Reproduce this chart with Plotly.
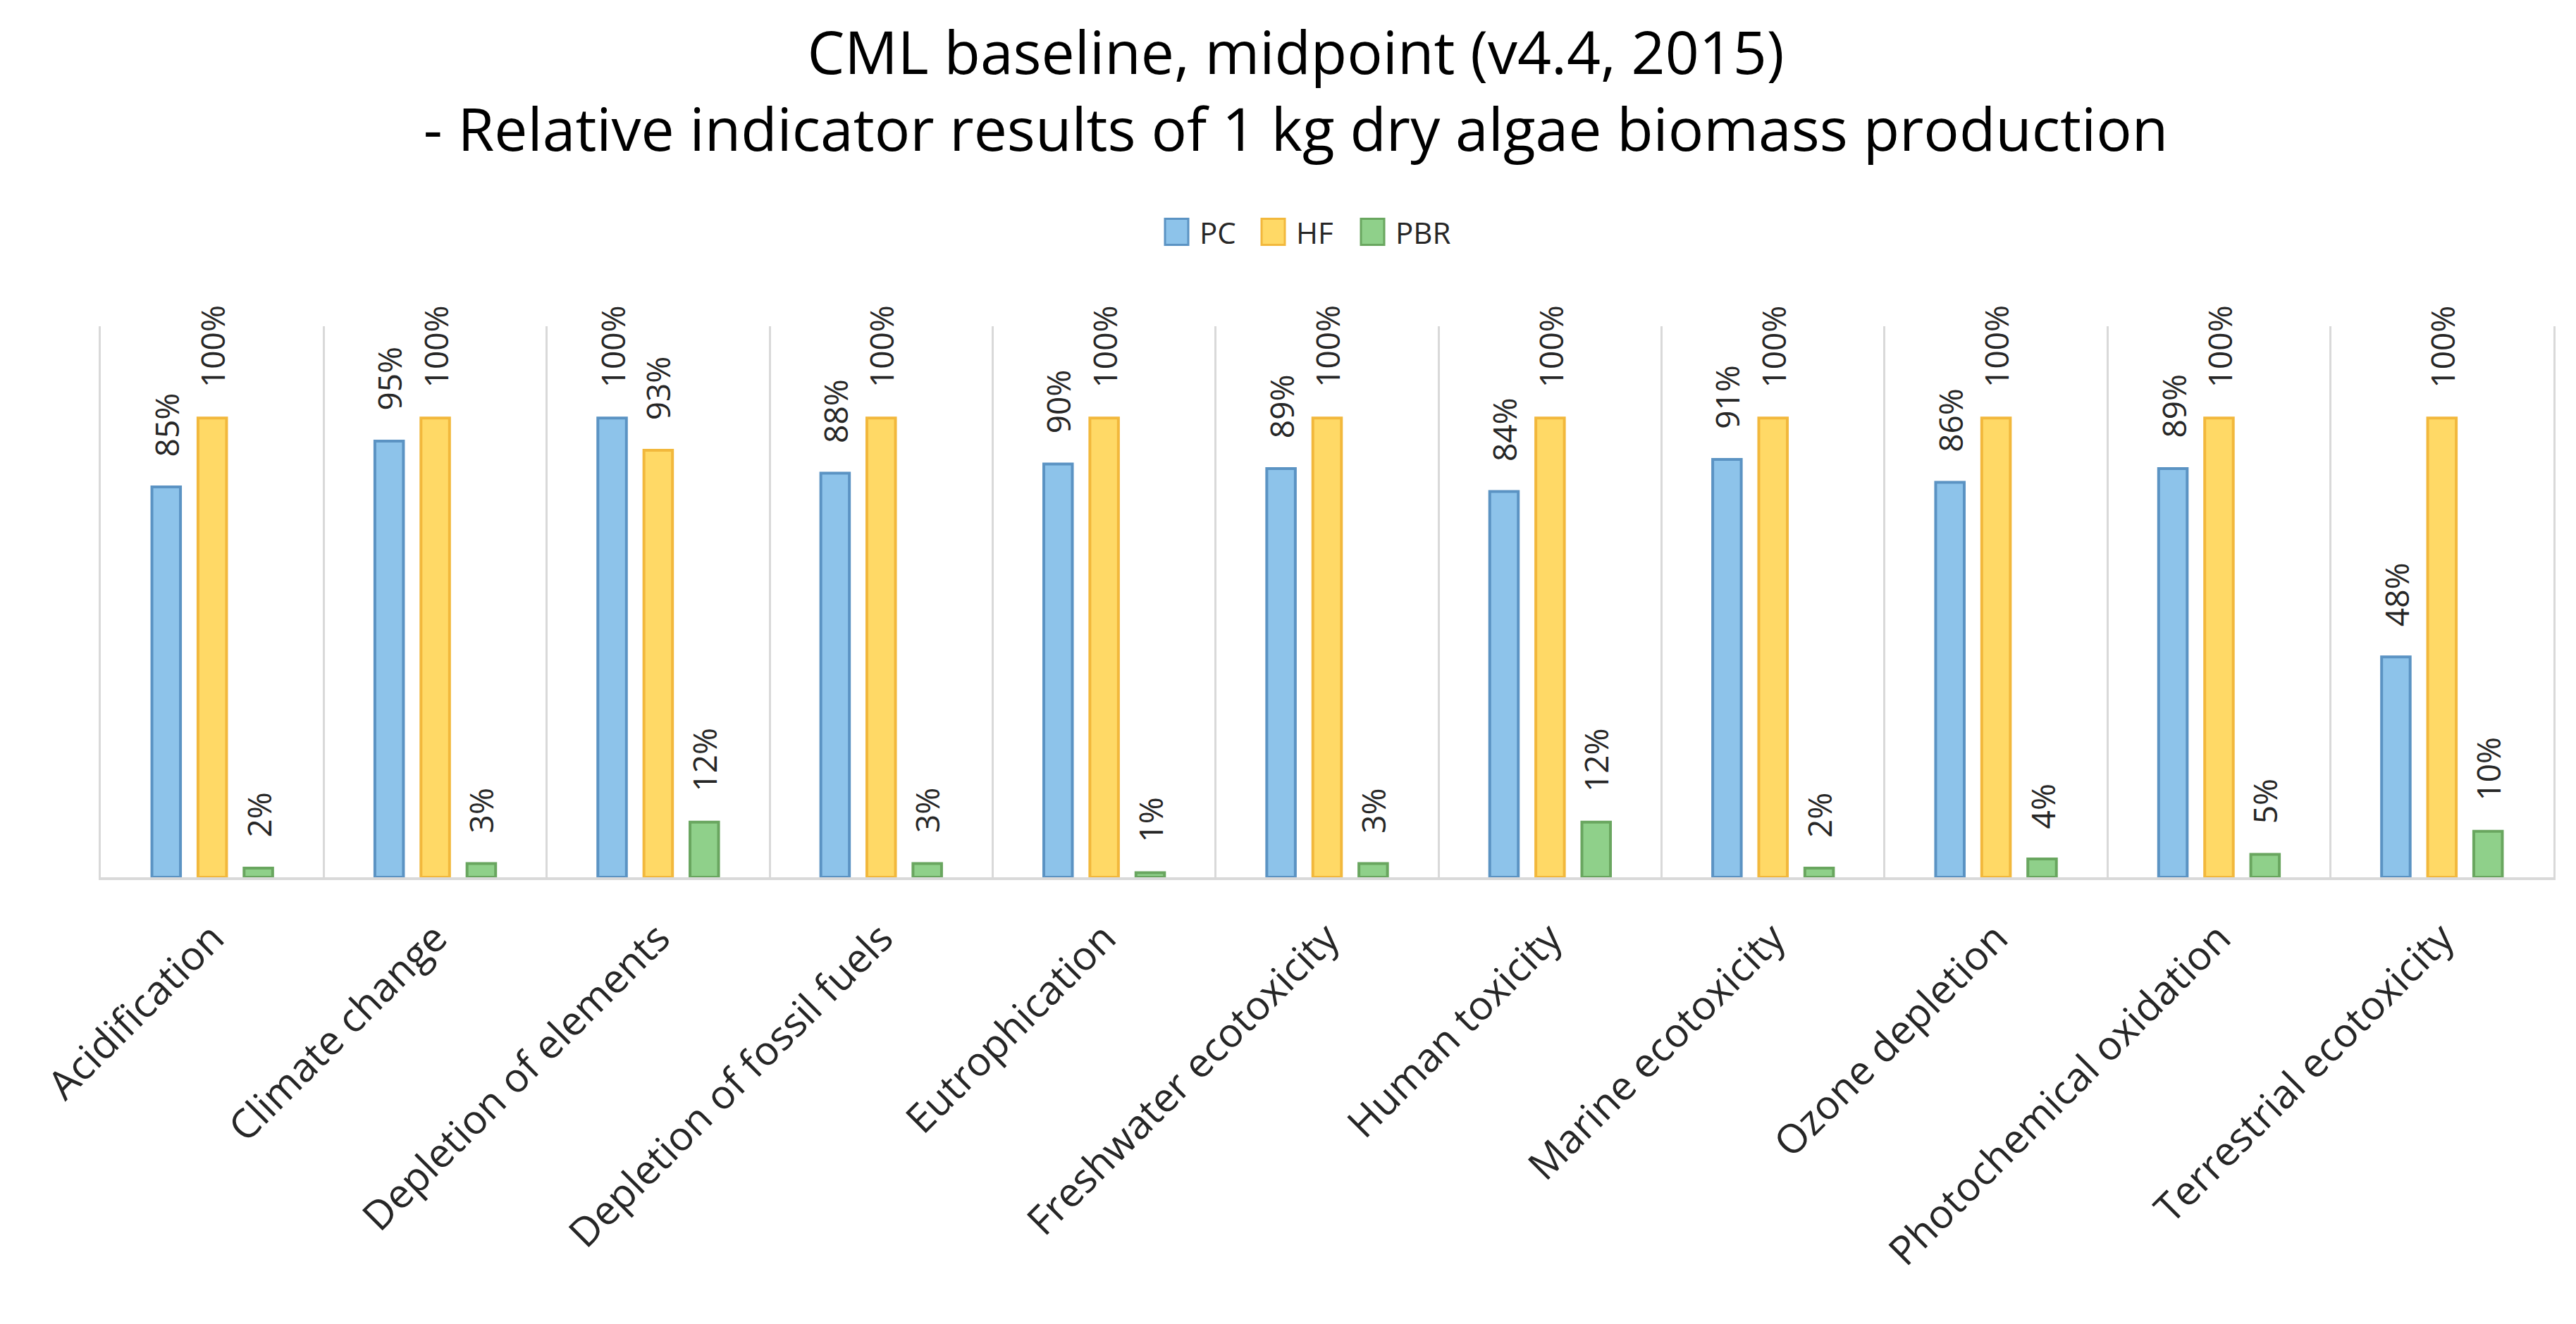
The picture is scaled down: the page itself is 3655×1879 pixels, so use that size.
import plotly.graph_objects as go

# ---------------- data ----------------
categories = [
    "Acidification", "Climate change", "Depletion of elements",
    "Depletion of fossil fuels", "Eutrophication", "Freshwater ecotoxicity",
    "Human toxicity", "Marine ecotoxicity", "Ozone depletion",
    "Photochemical oxidation", "Terrestrial ecotoxicity",
]
series_names = ["PC", "HF", "PBR"]
pc_values = [0.85, 0.95, 1.00, 0.88, 0.90, 0.89, 0.84, 0.91, 0.86, 0.89, 0.48]
hf_values = [1.00, 1.00, 0.93, 1.00, 1.00, 1.00, 1.00, 1.00, 1.00, 1.00, 1.00]
pbr_values = [0.02, 0.03, 0.12, 0.03, 0.01, 0.03, 0.12, 0.02, 0.04, 0.05, 0.10]

title_line1 = "CML baseline, midpoint (v4.4, 2015)"
title_line2 = "- Relative indicator results of 1 kg dry algae biomass production"

# ---------------- style ----------------
fill_colors = ["#8DC3EA", "#FFD966", "#8FD08A"]
line_colors = ["#5B93C3", "#F2B83C", "#69A65F"]
FONT = "Open Sans"
TEXT_COLOR = "#262626"
SEP_COLOR = "#D9D9D9"

W, H = 3655, 1879
L, R, T, B = 143, 32, 463, 634
PW, PH = W - L - R, H - T - B
BARGAP, BARGROUPGAP = 0.38, 0.38


def paper_x(px):
    return (px - L) / PW


def paper_y(py):
    return (H - B - py) / PH


all_series = [pc_values, hf_values, pbr_values]
n_series = len(all_series)

fig = go.Figure()
for name, vals, fc, lc in zip(series_names, all_series, fill_colors, line_colors):
    fig.add_trace(go.Bar(
        x=categories, y=vals, name=name,
        marker=dict(color=fc, line=dict(color=lc, width=4)),
        showlegend=False,
    ))

# data labels (rotated), positioned on the category scale
slot = (1 - BARGAP) / n_series
annotations = []
for j, vals in enumerate(all_series):
    offset = (j - (n_series - 1) / 2) * slot
    for i, v in enumerate(vals):
        annotations.append(dict(
            x=i + offset, y=v, xref="x", yref="y",
            text=f"{round(v * 100)}%", textangle=-90, showarrow=False,
            xanchor="center", yanchor="bottom", yshift=41,
            font=dict(family=FONT, size=46, color=TEXT_COLOR),
        ))

# custom legend (large swatches like the reference)
legend_x = [1653, 1790, 1931]
legend_cy = 329
sw_w, sw_h = 33, 37
shapes = []
for name, fc, lc, lx in zip(series_names, fill_colors, line_colors, legend_x):
    shapes.append(dict(
        type="rect", xref="paper", yref="paper",
        x0=paper_x(lx), x1=paper_x(lx + sw_w),
        y0=paper_y(legend_cy + sw_h / 2), y1=paper_y(legend_cy - sw_h / 2),
        fillcolor=fc, line=dict(color=lc, width=3),
    ))
    annotations.append(dict(
        x=paper_x(lx + sw_w + 14), y=paper_y(legend_cy), xref="paper", yref="paper",
        text=name, showarrow=False, xanchor="left", yanchor="middle",
        font=dict(family=FONT, size=42, color=TEXT_COLOR),
    ))

fig.update_layout(
    width=W, height=H,
    margin=dict(l=L, r=R, t=T, b=B, pad=0),
    paper_bgcolor="white", plot_bgcolor="white",
    barmode="group", bargap=BARGAP, bargroupgap=BARGROUPGAP,
    title=dict(
        text=title_line1 + "<br>" + title_line2,
        x=0.503, xanchor="center", xref="container",
        y=1 - 105 / H, yanchor="top", yref="container",
        font=dict(family=FONT, size=84, color="#000000"),
    ),
    annotations=annotations,
    shapes=shapes,
    xaxis=dict(
        type="category", tickangle=-45,
        tickfont=dict(family=FONT, size=57, color=TEXT_COLOR),
        showgrid=True, gridcolor=SEP_COLOR, gridwidth=3,
        tickson="boundaries", ticks="", ticklabelstandoff=26,
        showline=True, linecolor=SEP_COLOR, linewidth=4,
    ),
    yaxis=dict(
        range=[0, 1.2], showticklabels=False, showgrid=False, zeroline=False,
        showline=True, mirror=True, linecolor=SEP_COLOR, linewidth=3, ticks="",
    ),
)

fig.write_html(
    "out.html",
    config={"displayModeBar": False},
    post_script="document.body.style.margin='0';document.body.style.overflow='hidden';",
)
